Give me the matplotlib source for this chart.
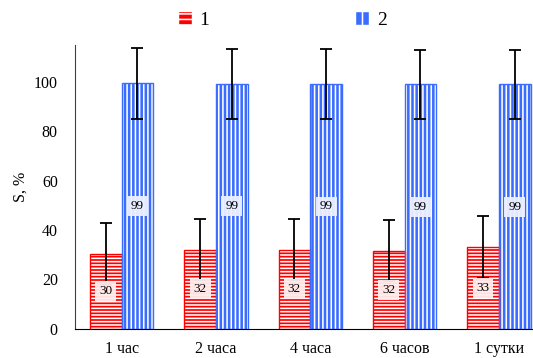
import matplotlib
matplotlib.use("Agg")
import matplotlib.pyplot as plt
import numpy as np
from matplotlib.patches import Patch

categories = ["1 час", "2 часа", "4 часа", "6 часов", "1 сутки"]
series1 = [30.4, 32.1, 32.1, 31.6, 33.2]
series2 = [99.5, 99.3, 99.1, 99.0, 99.0]
err1 = [12.5, 12.2, 12.3, 12.4, 12.5]
err2 = [14.3, 14.2, 14.2, 14.1, 14.1]
labels1 = ["30", "32", "32", "32", "33"]
labels2 = ["99", "99", "99", "99", "99"]
legend_names = ["1", "2"]

plt.rcParams['font.family'] = ['Liberation Serif', 'DejaVu Serif']
plt.rcParams['hatch.linewidth'] = 1.15

RED = '#FF0000'
BLUE = '#3A6CFF'

fig = plt.figure(figsize=(5.33, 3.58), dpi=100)
ax = fig.add_axes([74.5/533, 1-328.7/358, (546-74.5)/533, (328.7-45)/358])

x = np.arange(len(categories))
w = 0.336

# series 1: red with white horizontal stripes
ax.bar(x - w/2, series1, w, color=RED, edgecolor='white', hatch='-----', linewidth=0, zorder=2)
ax.bar(x - w/2, series1, w, fill=False, edgecolor=RED, linewidth=1.0, zorder=3)
# series 2: blue with white vertical stripes
ax.bar(x + w/2, series2, w, color=BLUE, edgecolor='white', hatch='||||', linewidth=0, zorder=2)
ax.bar(x + w/2, series2, w, fill=False, edgecolor=BLUE, linewidth=1.0, zorder=3)

ax.errorbar(x - w/2, series1, yerr=err1, fmt='none', ecolor='black', elinewidth=1.3,
            capsize=4, capthick=1.3, zorder=4)
ax.errorbar(x + w/2, series2, yerr=err2, fmt='none', ecolor='black', elinewidth=1.3,
            capsize=4, capthick=1.3, zorder=4)

for xi, v, lab in zip(x - w/2, series1, labels1):
    ax.text(xi, v/2, lab, ha='center', va='center', fontsize=9.5, zorder=5,
            bbox=dict(boxstyle='square,pad=0.3', facecolor='#FFEDED', edgecolor='none', alpha=0.95))
for xi, v, lab in zip(x + w/2, series2, labels2):
    ax.text(xi, v/2, lab, ha='center', va='center', fontsize=9.5, zorder=5,
            bbox=dict(boxstyle='square,pad=0.3', facecolor='#ECF0FF', edgecolor='none', alpha=0.95))

ax.set_xlim(-0.5, len(categories) - 0.5)
ax.set_ylim(0, 115)
ax.set_yticks([0, 20, 40, 60, 80, 100])
ax.set_xticks(x)
ax.set_xticklabels(categories)
ax.tick_params(axis='both', length=0, labelsize=11.5)
ax.tick_params(axis='y', pad=12)
ax.tick_params(axis='x', pad=9)
ax.spines['top'].set_visible(False)
ax.spines['right'].set_visible(False)
ax.spines['left'].set_color('#404040')
ax.spines['bottom'].set_color('black')
ax.set_ylabel("S, %", fontsize=11.5, labelpad=4)

handles = [Patch(facecolor=RED, edgecolor='white', hatch='---'),
           Patch(facecolor=BLUE, edgecolor='white', hatch='||')]
fig.legend(handles, legend_names, loc='center', bbox_to_anchor=(0.53, 1-20/358), ncol=2,
           frameon=False, fontsize=14, handlelength=0.7, handleheight=0.7,
           columnspacing=7.5, handletextpad=0.4)

fig.savefig("out.png", dpi=100)
